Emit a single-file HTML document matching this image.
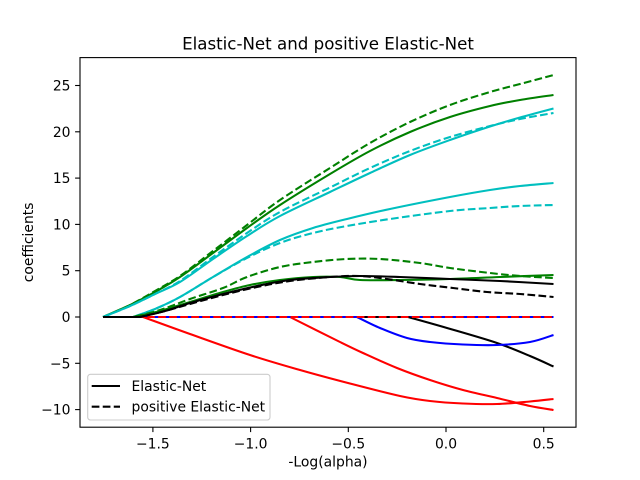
<!DOCTYPE html>
<html>
<head>
<meta charset="utf-8">
<style>
html,body{margin:0;padding:0;background:#ffffff;}
svg{display:block;}
text{font-family:"DejaVu Sans","Liberation Sans",sans-serif;fill:#000;}
</style>
</head>
<body>
<svg id="chart" width="640" height="480" viewBox="0 0 640 480" xmlns="http://www.w3.org/2000/svg">
<rect x="0" y="0" width="640" height="480" fill="#ffffff"/>

<g fill="none" stroke-width="2.08" stroke-linejoin="round">
<!-- 0 age (b) -->
<polyline stroke="#0000ff" points="103,317 553.5,317"/>
<polyline stroke="#0000ff" stroke-dasharray="7.7 3.33" points="103,317 553.5,317"/>
<!-- 1 sex (r) -->
<polyline class="sm" stroke="#ff0000" points="103,317 290,317 340,342 363,353 397,368 430,380 463,390 497,398 530,406 553.5,410"/>
<polyline stroke="#ff0000" stroke-dasharray="7.7 3.33" points="103,317 553.5,317"/>
<!-- 2 bmi (g) -->
<polyline class="sm" stroke="#008000" points="103,317 130,305 155,292 180,277 213,253 247,228 280,205 330,174 370,151 410,132 450,117 490,106 520,100 553.5,95"/>
<polyline class="sm" stroke="#008000" stroke-dasharray="7.7 3.33" points="103,317 130,305 155,291 180,276 213,251 247,225 280,200 330,168 370,143 410,122 450,105 490,92 520,84 553.5,75"/>
<!-- 3 bp (c) -->
<polyline class="sm" stroke="#00bfbf" points="103,317 133,317 155,309 180,297 213,277 247,257 280,240 313,228 347,219 390,209 450,197 490,190 520,186 553.5,183"/>
<polyline class="sm" stroke="#00bfbf" stroke-dasharray="7.7 3.33" points="103,317 133,317 155,309 180,297 213,277 247,258 280,243 313,233 347,226 390,219 450,211 490,208 520,206 553.5,205"/>
<!-- 4 s1 (k) -->
<polyline class="sm" stroke="#000000" points="103,317 408,317 447,328 497,343 530,356 553.5,366.5"/>
<polyline stroke="#000000" stroke-dasharray="7.7 3.33" points="103,317 553.5,317"/>
<!-- 5 s2 (b) -->
<polyline class="sm" stroke="#0000ff" points="103,317 357,317 380,328 407,338 430,342 463,344.5 497,345 530,342 553.5,335"/>
<polyline stroke="#0000ff" stroke-dasharray="7.7 3.33" points="103,317 553.5,317"/>
<!-- 6 s3 (r) -->
<polyline class="sm" stroke="#ff0000" points="103,317 143,317 190,334 250,355 300,370 348,383 400,396 430,401 463,403.5 497,404 530,401.5 553.5,399"/>
<polyline stroke="#ff0000" stroke-dasharray="7.7 3.33" points="103,317 553.5,317"/>
<!-- 7 s4 (g) -->
<polyline class="sm" stroke="#008000" points="103,317 133,317 160,311 190,302 223,292 250,285 280,280 313,277 340,277 360,280 400,280 450,279 500,277 553.5,275"/>
<polyline class="sm" stroke="#008000" stroke-dasharray="7.7 3.33" points="103,317 133,317 160,310 190,299 223,288 247,277 280,267 313,262 347,259 380,259 420,263 450,268 490,273 520,276 553.5,278"/>
<!-- 8 s5 (c) -->
<polyline class="sm" stroke="#00bfbf" points="103,317 130,306 155,294 180,282 213,259 247,236 280,216 330,192 370,173 410,155 450,140 490,126.5 520,117.5 553.5,108.5"/>
<polyline class="sm" stroke="#00bfbf" stroke-dasharray="7.7 3.33" points="103,317 130,306 155,294 180,281 213,257 247,233 280,212 330,187.5 370,168 410,151 450,137 490,126 520,119 553.5,113"/>
<!-- 9 s6 (k) -->
<polyline class="sm" stroke="#000000" points="103,317 140,317 165,311 190,303 223,294 257,286 290,280 330,277 360,276 400,277 450,279 500,281 553.5,284"/>
<polyline class="sm" stroke="#000000" stroke-dasharray="7.7 3.33" points="103,317 140,317 165,311 190,304 223,295 257,287 290,281 330,277 360,276 387,279 420,284 453,288 487,292 520,294 553.5,297"/>
</g>

<!-- axes frame -->
<rect x="80" y="57.6" width="496" height="369.6" fill="none" stroke="#000" stroke-width="1.1"/>

<!-- ticks -->
<g stroke="#000" stroke-width="1.1">
<line x1="152.9" y1="427.2" x2="152.9" y2="432.1"/>
<line x1="250.6" y1="427.2" x2="250.6" y2="432.1"/>
<line x1="348.3" y1="427.2" x2="348.3" y2="432.1"/>
<line x1="446" y1="427.2" x2="446" y2="432.1"/>
<line x1="543.7" y1="427.2" x2="543.7" y2="432.1"/>
<line x1="75.1" y1="409.6" x2="80" y2="409.6"/>
<line x1="75.1" y1="363.3" x2="80" y2="363.3"/>
<line x1="75.1" y1="317" x2="80" y2="317"/>
<line x1="75.1" y1="270.7" x2="80" y2="270.7"/>
<line x1="75.1" y1="224.4" x2="80" y2="224.4"/>
<line x1="75.1" y1="178.1" x2="80" y2="178.1"/>
<line x1="75.1" y1="131.8" x2="80" y2="131.8"/>
<line x1="75.1" y1="85.5" x2="80" y2="85.5"/>
</g>

<g font-size="13.9" text-anchor="middle">
<text x="152.9" y="448.5">−1.5</text>
<text x="250.6" y="448.5">−1.0</text>
<text x="348.3" y="448.5">−0.5</text>
<text x="446" y="448.5">0.0</text>
<text x="543.7" y="448.5">0.5</text>
</g>
<g font-size="13.9" text-anchor="end">
<text x="70.5" y="414.6">−10</text>
<text x="70.5" y="368.3">−5</text>
<text x="70.5" y="322">0</text>
<text x="70.5" y="275.7">5</text>
<text x="70.5" y="229.4">10</text>
<text x="70.5" y="183.1">15</text>
<text x="70.5" y="136.8">20</text>
<text x="70.5" y="90.5">25</text>
</g>

<text x="328" y="49.5" font-size="16.67" text-anchor="middle">Elastic-Net and positive Elastic-Net</text>
<text x="328" y="466.5" font-size="13.9" text-anchor="middle">-Log(alpha)</text>
<text transform="translate(33,242.4) rotate(-90)" font-size="13.9" text-anchor="middle">coefficients</text>

<!-- legend -->
<rect x="87.7" y="374.3" width="182.3" height="45.7" rx="2.8" ry="2.8" fill="#ffffff" fill-opacity="0.8" stroke="#cccccc" stroke-width="1.1"/>
<line x1="91.7" y1="386" x2="120" y2="386" stroke="#000" stroke-width="2.08"/>
<line x1="91.7" y1="406.7" x2="120" y2="406.7" stroke="#000" stroke-width="2.08" stroke-dasharray="7.7 3.33"/>
<text x="131.5" y="391" font-size="13.9">Elastic-Net</text>
<text x="131.5" y="411.7" font-size="13.9">positive Elastic-Net</text>
</svg>
<script>
(function(){
  var NS='http://www.w3.org/2000/svg';
  var list=document.querySelectorAll('polyline.sm');
  for(var n=0;n<list.length;n++){
    var pl=list[n];
    var raw=pl.getAttribute('points').trim().split(/\s+/);
    var pts=[];
    for(var j=0;j<raw.length;j++){var a=raw[j].split(',');pts.push([parseFloat(a[0]),parseFloat(a[1])]);}
    var k=0;
    while(k+1<pts.length && pts[k][1]===317 && pts[k+1][1]===317) k++;
    var d='M'+pts[0][0]+','+pts[0][1];
    if(k>0) d+=' L'+pts[k][0]+','+pts[k][1];
    var c=pts.slice(k);
    for(var i=0;i<c.length-1;i++){
      var p0=c[i>0?i-1:0], p1=c[i], p2=c[i+1], p3=c[(i+2<c.length)?i+2:c.length-1];
      var c1x=p1[0]+(p2[0]-p0[0])/6, c1y=p1[1]+(p2[1]-p0[1])/6;
      var c2x=p2[0]-(p3[0]-p1[0])/6, c2y=p2[1]-(p3[1]-p1[1])/6;
      d+=' C'+c1x.toFixed(2)+','+c1y.toFixed(2)+' '+c2x.toFixed(2)+','+c2y.toFixed(2)+' '+p2[0]+','+p2[1];
    }
    var path=document.createElementNS(NS,'path');
    path.setAttribute('d',d);
    path.setAttribute('stroke',pl.getAttribute('stroke'));
    if(pl.getAttribute('stroke-dasharray')) path.setAttribute('stroke-dasharray',pl.getAttribute('stroke-dasharray'));
    path.setAttribute('fill','none');
    pl.parentNode.replaceChild(path,pl);
  }
})();
</script>
</body>
</html>
